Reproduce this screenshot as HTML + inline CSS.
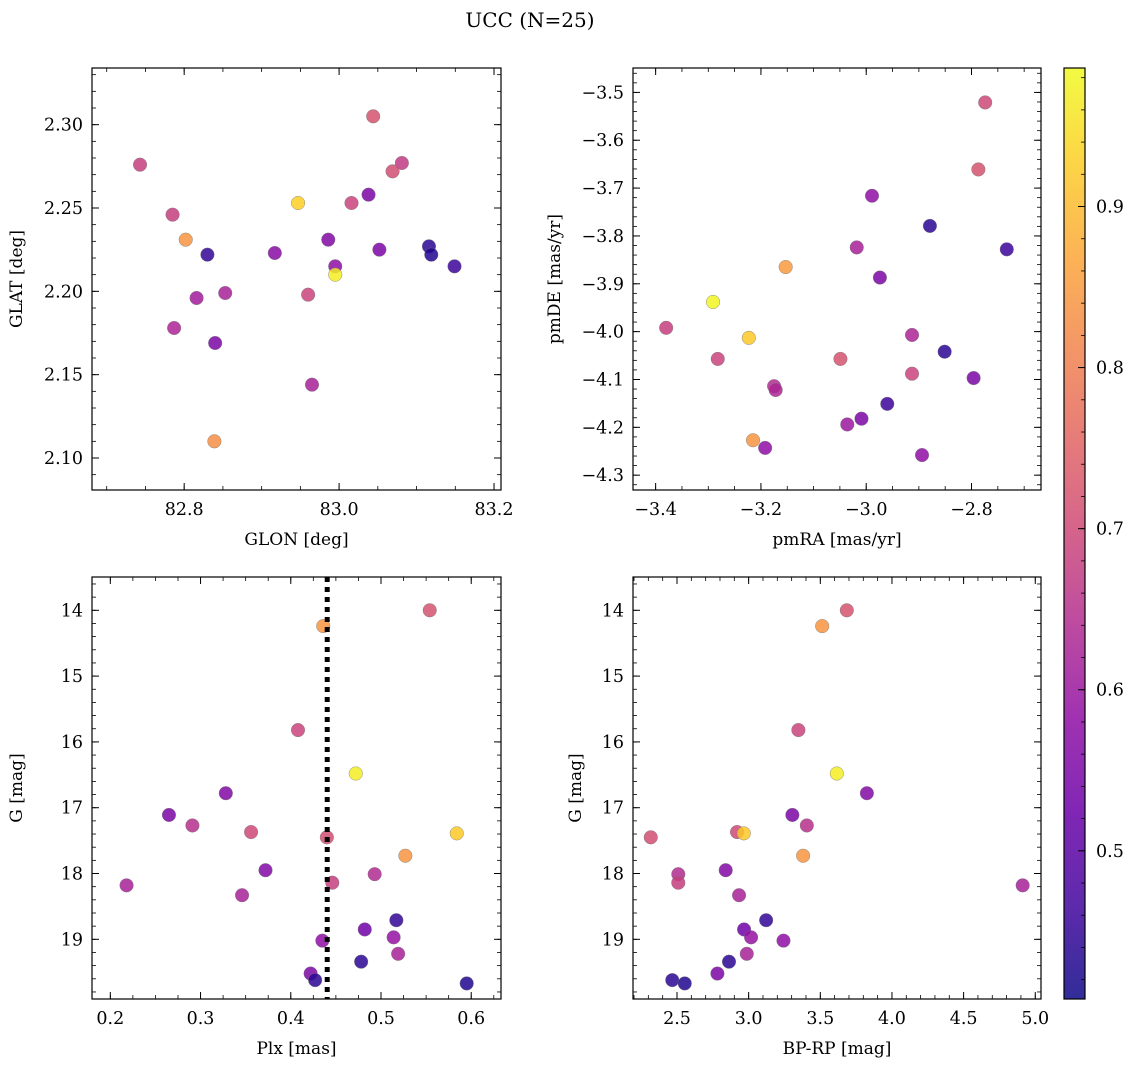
<!DOCTYPE html>
<html><head><meta charset="utf-8"><style>
html,body{margin:0;padding:0;background:#fff}
svg text{font-family:"DejaVu Serif","Liberation Serif",serif;fill:#000}
</style></head><body>
<svg id="fig" width="1136" height="1067" viewBox="0 0 1136 1067" xmlns="http://www.w3.org/2000/svg">
<text x="530" y="27" font-size="20" text-anchor="middle">UCC (N=25)</text>
</svg>
<script>
// Panel 1 data (GLON / GLAT)
const glon = [82.743,83.044,83.081,83.069,83.038,82.947,83.016,82.785,82.802,82.986,82.830,82.917,83.052,83.116,83.119,83.149,82.995,82.995,82.960,82.853,82.816,82.787,82.840,82.965,82.839];
const glat = [2.276,2.305,2.277,2.272,2.258,2.253,2.253,2.246,2.231,2.231,2.222,2.223,2.225,2.227,2.222,2.215,2.215,2.210,2.198,2.199,2.196,2.178,2.169,2.144,2.110];
const probPos = [0.68,0.72,0.67,0.71,0.55,0.93,0.69,0.68,0.84,0.56,0.45,0.57,0.55,0.44,0.43,0.46,0.58,0.97,0.69,0.62,0.61,0.63,0.55,0.62,0.83];
// Panel 2 data (pmRA / pmDE)
const pmra = [-2.774,-2.787,-2.989,-2.879,-2.733,-3.018,-3.153,-2.974,-3.291,-3.380,-3.223,-2.913,-2.851,-3.282,-3.049,-2.913,-2.796,-3.175,-3.172,-2.960,-3.009,-3.036,-3.215,-3.192,-2.894];
const pmde = [-3.521,-3.661,-3.716,-3.779,-3.828,-3.824,-3.865,-3.887,-3.938,-3.992,-4.013,-4.007,-4.042,-4.057,-4.057,-4.088,-4.097,-4.114,-4.122,-4.151,-4.182,-4.194,-4.227,-4.243,-4.258];
const probPm = [0.70,0.72,0.58,0.44,0.46,0.62,0.85,0.55,0.98,0.68,0.92,0.63,0.44,0.69,0.72,0.69,0.55,0.64,0.63,0.46,0.55,0.60,0.84,0.58,0.58];
// Panels 3 & 4 data (Plx, BP-RP, G)
const plx = [0.554,0.436,0.408,0.472,0.328,0.265,0.291,0.356,0.584,0.440,0.527,0.372,0.493,0.446,0.218,0.346,0.517,0.482,0.514,0.435,0.519,0.478,0.422,0.427,0.595];
const bprp = [3.685,3.513,3.347,3.615,3.825,3.305,3.406,2.919,2.966,2.317,3.380,2.840,2.509,2.509,4.912,2.933,3.122,2.968,3.017,3.243,2.987,2.863,2.782,2.467,2.554];
const gmag = [14.00,14.24,15.82,16.48,16.78,17.11,17.27,17.37,17.39,17.45,17.73,17.95,18.01,18.14,18.18,18.33,18.71,18.85,18.97,19.02,19.22,19.34,19.52,19.62,19.67];
const probPhot = [0.72,0.84,0.69,0.97,0.56,0.55,0.65,0.70,0.92,0.71,0.84,0.56,0.64,0.68,0.62,0.62,0.45,0.53,0.59,0.58,0.62,0.44,0.55,0.44,0.43];
const plxLine = 0.4404;
// Tick labels
const ticksGlon = [82.8,83.0,83.2];
const ticksGlat = [2.10,2.15,2.20,2.25,2.30];
const ticksPmra = [-3.4,-3.2,-3.0,-2.8];
const ticksPmde = [-4.3,-4.2,-4.1,-4.0,-3.9,-3.8,-3.7,-3.6,-3.5];
const ticksPlx = [0.2,0.3,0.4,0.5,0.6];
const ticksBprp = [2.5,3.0,3.5,4.0,4.5,5.0];
const ticksG = [14,15,16,17,18,19];
const ticksCbar = [0.5,0.6,0.7,0.8,0.9];
const cMin = 0.408, cMax = 0.986;

const NS = "http://www.w3.org/2000/svg";
const svg = document.getElementById('fig');
const FS = 17.5;
function mk(tag, attrs, parent){const e=document.createElementNS(NS,tag);for(const k in attrs)e.setAttribute(k,attrs[k]);(parent||svg).appendChild(e);return e;}
const stops=[[13,8,135],[65,4,157],[106,0,168],[143,13,164],[177,42,144],[204,71,120],[225,100,98],[242,132,75],[252,166,54],[252,206,37],[240,249,33]];
function plasma(t){t=Math.max(0,Math.min(1,t));const f=t*10,i=Math.min(9,Math.floor(f)),u=f-i;const a=stops[i],b=stops[i+1];return `rgb(${a.map((v,k)=>Math.round(v+(b[k]-v)*u)).join(',')})`;}
function cval(p){return plasma((p-cMin)/(cMax-cMin));}
function fmt(v,d){return (v<0?'\u2212':'')+Math.abs(v).toFixed(d);}

function panel(o){
  const g=mk('g',{});
  
  
  const sx=v=>o.x0+(v-o.xmin)/(o.xmax-o.xmin)*(o.x1-o.x0);
  const sy=o.yinv?(v=>o.y0+(v-o.ymin)/(o.ymax-o.ymin)*(o.y1-o.y0)):(v=>o.y1-(v-o.ymin)/(o.ymax-o.ymin)*(o.y1-o.y0));
  const mt=mk('g',{stroke:'#000','stroke-width':0.8},g);
  for(let v=Math.ceil(o.xmin/o.xminor-1e-9)*o.xminor;v<=o.xmax;v+=o.xminor){const X=sx(v);mk('line',{x1:X,x2:X,y1:o.y1,y2:o.y1-4},mt);mk('line',{x1:X,x2:X,y1:o.y0,y2:o.y0+4},mt);}
  for(let v=Math.ceil(o.ymin/o.yminor-1e-9)*o.yminor;v<=o.ymax;v+=o.yminor){const Y=sy(v);mk('line',{x1:o.x0,x2:o.x0+4,y1:Y,y2:Y},mt);mk('line',{x1:o.x1,x2:o.x1-4,y1:Y,y2:Y},mt);}
  const xt=mk('g',{},g);
  
  
  o.xt.forEach(v=>{const X=sx(v);mk('line',{x1:X,x2:X,y1:o.y1,y2:o.y1-7,stroke:'#000','stroke-width':1},xt);mk('line',{x1:X,x2:X,y1:o.y0,y2:o.y0+7,stroke:'#000','stroke-width':1},xt);
    const t=mk('text',{x:X,y:o.y1+25,'font-size':FS,'text-anchor':'middle'},xt);t.textContent=fmt(v,o.xd);});
  const yt=mk('g',{},g);
  
  
  o.yt.forEach(v=>{const Y=sy(v);mk('line',{x1:o.x0,x2:o.x0+7,y1:Y,y2:Y,stroke:'#000','stroke-width':1},yt);mk('line',{x1:o.x1,x2:o.x1-7,y1:Y,y2:Y,stroke:'#000','stroke-width':1},yt);
    const t=mk('text',{x:o.x0-9,y:Y+6,'font-size':FS,'text-anchor':'end'},yt);t.textContent=fmt(v,o.yd);});
  const pts=mk('g',{},g);
  
  
  o.xs.forEach((v,i)=>{const c=mk('circle',{cx:sx(v),cy:sy(o.ys[i]),r:6.8,fill:cval(o.c[i]),'fill-opacity':0.85,stroke:'#777','stroke-width':0.4},pts);
    
    });
  if(o.vline!==undefined){const X=sx(o.vline);const l=mk('line',{x1:X,x2:X,y1:o.y0,y2:o.y1,stroke:'#000','stroke-width':5,'stroke-dasharray':'5 5'},g);
    
    }
  mk('rect',{x:o.x0,y:o.y0,width:o.x1-o.x0,height:o.y1-o.y0,fill:'none',stroke:'#000','stroke-width':1.2},g);
  const xl=mk('text',{x:(o.x0+o.x1)/2,y:o.y1+55,'font-size':17,'text-anchor':'middle'},g);xl.textContent=o.xl;
  
  
  const cy=(o.y0+o.y1)/2;const yl=mk('text',{x:o.ylx,y:cy,'font-size':17,'text-anchor':'middle',transform:`rotate(-90 ${o.ylx} ${cy})`},g);yl.textContent=o.yl;
  
  
}
panel({name:'glon-glat-panel',x0:92,x1:501,y0:68,y1:490,xmin:82.681,xmax:83.209,ymin:2.0808,ymax:2.334,xminor:0.05,yminor:0.01,xt:ticksGlon,yt:ticksGlat,xd:1,yd:2,xs:glon,ys:glat,c:probPos,xl:'GLON [deg]',yl:'GLAT [deg]',ylx:22});
panel({name:'pm-panel',x0:633,x1:1041,y0:68,y1:490,xmin:-3.443,xmax:-2.668,ymin:-4.331,ymax:-3.449,xminor:0.05,yminor:0.02,xt:ticksPmra,yt:ticksPmde,xd:1,yd:1,xs:pmra,ys:pmde,c:probPm,xl:'pmRA [mas/yr]',yl:'pmDE [mas/yr]',ylx:560});
panel({name:'plx-g-panel',x0:92,x1:501,y0:577,y1:999,xmin:0.1797,xmax:0.633,ymin:13.494,ymax:19.907,yinv:true,xminor:0.025,yminor:0.2,xt:ticksPlx,yt:ticksG,xd:1,yd:0,xs:plx,ys:gmag,c:probPhot,xl:'Plx [mas]',yl:'G [mag]',ylx:22,vline:plxLine});
panel({name:'cmd-panel',x0:633,x1:1041,y0:577,y1:999,xmin:2.193,xmax:5.04,ymin:13.494,ymax:19.907,yinv:true,xminor:0.1,yminor:0.2,xt:ticksBprp,yt:ticksG,xd:1,yd:0,xs:bprp,ys:gmag,c:probPhot,xl:'BP-RP [mag]',yl:'G [mag]',ylx:581});
// colorbar
(function(){
  const x0=1064,x1=1085,y0=68,y1=999;
  const g=mk('g',{});
  
  
  const defs=mk('defs',{},g);const lg=mk('linearGradient',{id:'cb',x1:0,y1:1,x2:0,y2:0},defs);
  for(let i=0;i<=20;i++)mk('stop',{offset:i/20,'stop-color':plasma(i/20),'stop-opacity':0.85},lg);
  mk('rect',{x:x0,y:y0,width:x1-x0,height:y1-y0,fill:'url(#cb)'},g);
  const sy=v=>y1-(v-cMin)/(cMax-cMin)*(y1-y0);
  for(let v=0.42;v<cMax;v+=0.02){const Y=sy(v);mk('line',{x1:x1,x2:x1-4,y1:Y,y2:Y,stroke:'#000','stroke-width':0.8},g);}
  ticksCbar.forEach(v=>{const Y=sy(v);mk('line',{x1:x1,x2:x1-7,y1:Y,y2:Y,stroke:'#000','stroke-width':1},g);const t=mk('text',{x:x1+11,y:Y+6,'font-size':FS},g);t.textContent=v.toFixed(1);});
  mk('rect',{x:x0,y:y0,width:x1-x0,height:y1-y0,fill:'none',stroke:'#000','stroke-width':1.2},g);
})();
</script>
</body></html>
